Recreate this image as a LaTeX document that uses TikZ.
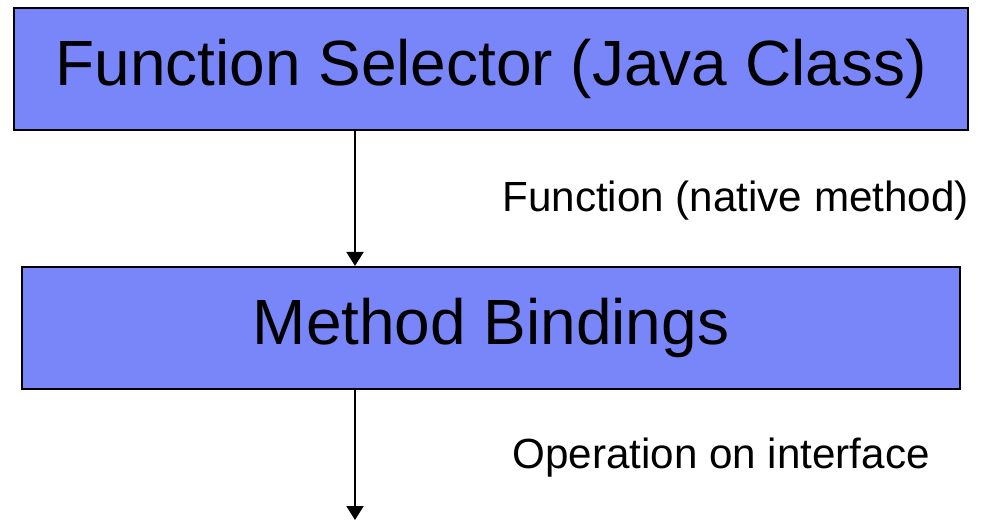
\documentclass[tikz,border=0pt]{standalone}
\usepackage{fontspec}
\setmainfont{Liberation Sans}
\usetikzlibrary{arrows.meta, positioning}
\definecolor{layerblue}{RGB}{120,134,250}
\tikzset{
  layer/.style={draw=black, rectangle, fill=layerblue, line width=1.1pt, minimum height=2.44cm, inner sep=0pt, font=\fontsize{36.4}{44}\selectfont},
  calllabel/.style={anchor=west, inner sep=0pt, font=\fontsize{24}{29}\selectfont},
  arrow/.style={-{Triangle[width=0.34cm, length=0.28cm]}, line width=1.1pt, draw=black}
}
\begin{document}
\begin{tikzpicture}[node distance=2.7cm]
\useasboundingbox (0,0) rectangle (19.72,-10.4);

\node[layer, minimum width=19.08cm] (selector) at (9.82,-1.38) {Function Selector (Java Class)};
\node[layer, below=of selector, minimum width=18.76cm] (bindings) {Method Bindings};

% the calls go down a line left of the centre
\coordinate (call) at (7.1,0);
\coordinate (down) at (7.1,-10.4);

\draw[arrow] (selector.south -| call) -- (bindings.north -| call);
\draw[arrow] (bindings.south -| down) -- (down);

\node[calllabel] (native) at (10.04,-4.02) {Function (native method)};
\node[calllabel] (iface) at (10.24,-9.16) {Operation on interface};

\end{tikzpicture}
\end{document}
